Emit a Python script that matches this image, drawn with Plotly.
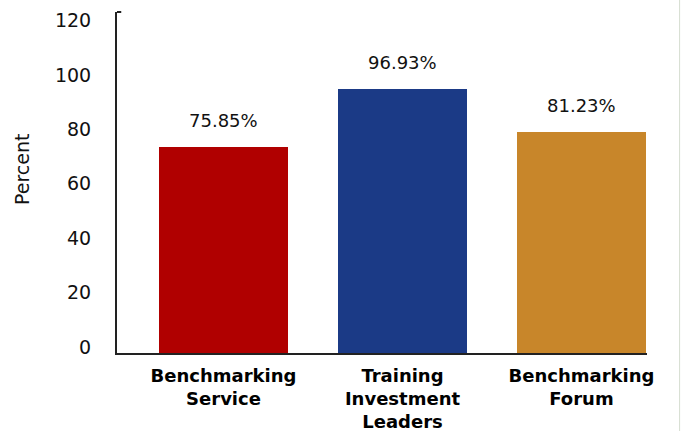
import plotly.graph_objects as go

# Survey results by program
categories = ["Benchmarking<br>Service", "Training<br>Investment<br>Leaders", "Benchmarking<br>Forum"]
percents = [75.85, 96.93, 81.23]
value_labels = ["75.85%", "96.93%", "81.23%"]
y_ticks = [0, 20, 40, 60, 80, 100, 120]

fill_colors = ["#B00000", "#1B3A86", "#C8862A"]

x_pos = list(range(len(categories)))

fig = go.Figure()
fig.add_trace(go.Bar(
    x=x_pos,
    y=percents,
    width=0.72,
    marker=dict(color=fill_colors, line=dict(width=0)),
    hoverinfo="skip",
    showlegend=False,
))

# Value labels above each bar
for xi, val, lab in zip(x_pos, percents, value_labels):
    fig.add_annotation(
        x=xi, y=val, text=lab, showarrow=False,
        xanchor="center", yanchor="bottom", yshift=14,
        font=dict(family="DejaVu Sans", size=18, color="#111111"),
    )

# Rotated axis title
fig.add_annotation(
    xref="paper", yref="paper", x=-0.179, y=0.54,
    text="Percent", textangle=-90, showarrow=False,
    xanchor="center", yanchor="middle",
    font=dict(family="DejaVu Sans", size=19, color="#111111"),
)

# Small cap at the top of the value axis
fig.add_shape(type="line", xref="paper", yref="paper",
              x0=0, x1=0.008, y0=1, y1=1,
              line=dict(color="#222222", width=2))
# Thin frame line at the right edge of the page
fig.add_shape(type="line", xref="paper", yref="paper",
              x0=1.0615, x1=1.0615, y0=-0.3, y1=1.1,
              line=dict(color="#D6DDD0", width=1))

fig.update_layout(
    width=681, height=431,
    margin=dict(l=117, r=34, t=12, b=78),
    paper_bgcolor="white", plot_bgcolor="white",
    bargap=0,
    xaxis=dict(
        range=[-0.595, 2.366],
        tickmode="array", tickvals=x_pos, ticktext=categories,
        showgrid=False, zeroline=False,
        showline=True, linecolor="#222222", linewidth=2,
        ticks="", ticklabelstandoff=5, automargin=False,
        tickfont=dict(family="DejaVu Sans", size=18, color="#000000", weight="bold"),
        fixedrange=True,
    ),
    yaxis=dict(
        range=[0, 125.4],
        tickmode="array", tickvals=y_ticks,
        ticklabelshift=-6,
        showgrid=False, zeroline=False,
        showline=True, linecolor="#222222", linewidth=2,
        ticks="", ticklabelstandoff=20, automargin=False,
        tickfont=dict(family="DejaVu Sans", size=19, color="#111111"),
        fixedrange=True,
    ),
)

fig.write_html("out.html")
